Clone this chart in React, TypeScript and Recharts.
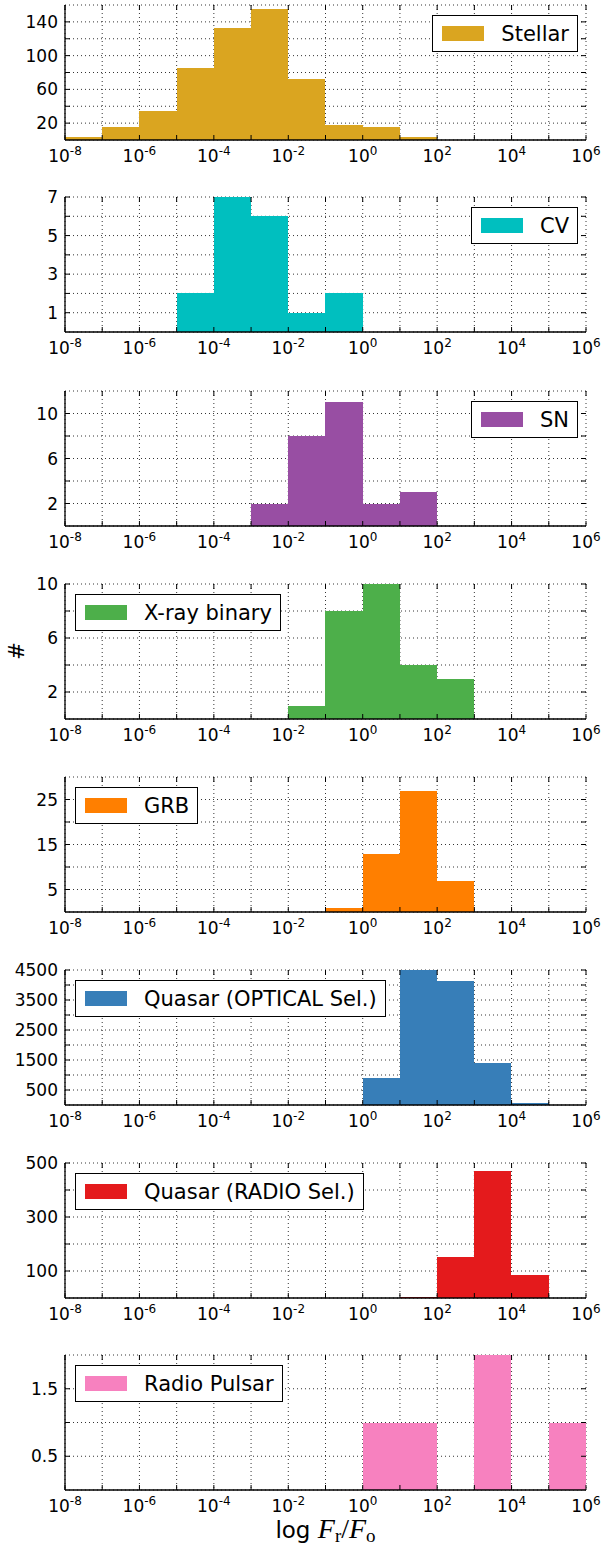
import React from 'react';
import { BarChart, Bar, XAxis, YAxis, CartesianGrid } from 'recharts';

// log10(Fr/Fo) histograms, 1-dex bins from 10^-8 to 10^6
const BIN_EDGES = [-8, -7, -6, -5, -4, -3, -2, -1, 0, 1, 2, 3, 4, 5];
const DECADES = [-8, -7, -6, -5, -4, -3, -2, -1, 0, 1, 2, 3, 4, 5, 6];
const DECADE_LABELS = [-8, -6, -4, -2, 0, 2, 4, 6];

const STELLAR = [3, 15, 34, 85, 133, 155, 72, 18, 16, 4, 0, 0, 0, 0];
const CV = [0, 0, 0, 2, 7, 6, 1, 2, 0, 0, 0, 0, 0, 0];
const SN = [0, 0, 0, 0, 0, 2, 8, 11, 2, 3, 0, 0, 0, 0];
const XRB = [0, 0, 0, 0, 0, 0, 1, 8, 10, 4, 3, 0, 0, 0];
const GRB = [0, 0, 0, 0, 0, 0, 0, 1, 13, 27, 7, 0, 0, 0];
const QSO_OPT = [0, 0, 0, 0, 0, 0, 0, 0, 900, 4500, 4150, 1400, 60, 0];
const QSO_RADIO = [0, 0, 0, 0, 0, 0, 0, 0, 0, 4, 153, 470, 87, 0];
const PULSAR = [0, 0, 0, 0, 0, 0, 0, 0, 1, 1, 0, 2, 0, 1];

const STELLAR_TICKS = [20, 40, 60, 80, 100, 120, 140];
const STELLAR_LABELS = [20, 60, 100, 140];
const CV_TICKS = [1, 2, 3, 4, 5, 6, 7];
const CV_LABELS = [1, 3, 5, 7];
const SN_TICKS = [2, 4, 6, 8, 10];
const SN_LABELS = [2, 6, 10];
const XRB_TICKS = [2, 4, 6, 8, 10];
const XRB_LABELS = [2, 6, 10];
const GRB_TICKS = [5, 10, 15, 20, 25];
const GRB_LABELS = [5, 15, 25];
const QSO_OPT_TICKS = [500, 1000, 1500, 2000, 2500, 3000, 3500, 4000, 4500];
const QSO_OPT_LABELS = [500, 1500, 2500, 3500, 4500];
const QSO_RADIO_TICKS = [100, 200, 300, 400, 500];
const QSO_RADIO_LABELS = [100, 300, 500];
const PULSAR_TICKS = [0.5, 1, 1.5];
const PULSAR_LABELS = [0.5, 1.5];

const rows = BIN_EDGES.map((edge, i) => ({
  center: edge + 0.5,
  stellar: STELLAR[i],
  cv: CV[i],
  sn: SN[i],
  xrb: XRB[i],
  grb: GRB[i],
  qsoOpt: QSO_OPT[i],
  qsoRadio: QSO_RADIO[i],
  pulsar: PULSAR[i],
}));

const PANELS = [
  { key: 'stellar', name: 'Stellar', color: '#daa520', yMax: 160, ticks: STELLAR_TICKS, labels: STELLAR_LABELS, legend: 'right' },
  { key: 'cv', name: 'CV', color: '#00bfbf', yMax: 7, ticks: CV_TICKS, labels: CV_LABELS, legend: 'right' },
  { key: 'sn', name: 'SN', color: '#984ea3', yMax: 12, ticks: SN_TICKS, labels: SN_LABELS, legend: 'right' },
  { key: 'xrb', name: 'X-ray binary', color: '#4daf4a', yMax: 10, ticks: XRB_TICKS, labels: XRB_LABELS, legend: 'left' },
  { key: 'grb', name: 'GRB', color: '#ff7f00', yMax: 30, ticks: GRB_TICKS, labels: GRB_LABELS, legend: 'left' },
  { key: 'qsoOpt', name: 'Quasar (OPTICAL Sel.)', color: '#377eb8', yMax: 4500, ticks: QSO_OPT_TICKS, labels: QSO_OPT_LABELS, legend: 'left' },
  { key: 'qsoRadio', name: 'Quasar (RADIO Sel.)', color: '#e41a1c', yMax: 500, ticks: QSO_RADIO_TICKS, labels: QSO_RADIO_LABELS, legend: 'left' },
  { key: 'pulsar', name: 'Radio Pulsar', color: '#f781bf', yMax: 2, ticks: PULSAR_TICKS, labels: PULSAR_LABELS, legend: 'left' },
];

const W = 603;
const H = 1548;
const PLOT_LEFT = 65;
const PLOT_RIGHT = 586;
const BIN_PX = (PLOT_RIGHT - PLOT_LEFT) / BIN_EDGES.length;
const PLOT_H = 135;
const PAD_TOP = 14;
const X_AXIS_H = 32;
const CHART_H = PAD_TOP + PLOT_H + X_AXIS_H;
const PLOT_TOPS = [5, 197, 391, 584, 777, 970, 1163, 1355];

const FONT = '"DejaVu Sans", sans-serif';
const SERIF = '"Liberation Serif", serif';
const FRAME = { stroke: '#000', strokeWidth: 1.3 };

type P = (typeof PANELS)[number];

// histogram bar: take the bin centre from the library and fill the whole bin width
const BinBar = (props: any) => {
  const { x, y, width, height, fill } = props;
  if (!height || height <= 0) return null;
  const cx = x + width / 2;
  return <rect x={cx - BIN_PX / 2} y={y} width={BIN_PX} height={height} fill={fill} shapeRendering="crispEdges" />;
};

function Panel({ p, top }: { p: P; top: number }) {
  const plotTop = PAD_TOP;
  const plotBottom = PAD_TOP + PLOT_H;

  const XTick = (props: any) => {
    const { x, payload } = props;
    const v = payload.value;
    return (
      <g>
        <line x1={x} x2={x} y1={plotBottom} y2={plotBottom - 5} stroke="#000" strokeWidth={1} />
        <line x1={x} x2={x} y1={plotTop} y2={plotTop + 5} stroke="#000" strokeWidth={1} />
        {DECADE_LABELS.includes(v) && (
          <text x={x} y={plotBottom + 22} textAnchor="middle" fontSize={17} fontFamily={FONT} fill="#000">
            10
            <tspan dy={-7} fontSize={12}>{String(v)}</tspan>
          </text>
        )}
      </g>
    );
  };

  const YTick = (props: any) => {
    const { y, payload } = props;
    const v = payload.value;
    return (
      <g>
        <line x1={PLOT_LEFT} x2={PLOT_LEFT + 5} y1={y} y2={y} stroke="#000" strokeWidth={1} />
        <line x1={PLOT_RIGHT} x2={PLOT_RIGHT - 5} y1={y} y2={y} stroke="#000" strokeWidth={1} />
        {p.labels.includes(v) && (
          <text x={PLOT_LEFT - 7} y={y} dy="0.36em" textAnchor="end" fontSize={17} fontFamily={FONT} fill="#000">
            {String(v)}
          </text>
        )}
      </g>
    );
  };

  const legendPos =
    p.legend === 'right'
      ? { right: W - PLOT_RIGHT + 8 }
      : { left: PLOT_LEFT + 10 };

  return (
    <div style={{ position: 'absolute', left: 0, top: top - PAD_TOP, width: W, height: CHART_H }}>
      <BarChart
        width={W}
        height={CHART_H}
        data={rows}
        margin={{ top: PAD_TOP, right: W - PLOT_RIGHT, bottom: 0, left: 0 }}
        barCategoryGap="0%"
        barGap={0}
      >
        <CartesianGrid stroke="#000" strokeWidth={0.8} strokeDasharray="1 3" />
        <Bar dataKey={p.key} fill={p.color} shape={<BinBar />} isAnimationActive={false} />
        <XAxis
          dataKey="center"
          type="number"
          domain={[-8, 6]}
          ticks={DECADES}
          interval={0}
          height={X_AXIS_H}
          allowDataOverflow
          tickLine={false}
          axisLine={FRAME}
          tick={<XTick />}
        />
        <XAxis xAxisId="top" orientation="top" type="number" domain={[-8, 6]} height={0} tick={false} tickLine={false} axisLine={FRAME} />
        <YAxis
          type="number"
          domain={[0, p.yMax]}
          ticks={p.ticks}
          interval={0}
          width={PLOT_LEFT}
          allowDataOverflow
          tickLine={false}
          axisLine={FRAME}
          tick={<YTick />}
        />
        <YAxis yAxisId="r" orientation="right" type="number" domain={[0, p.yMax]} width={0} tick={false} tickLine={false} axisLine={FRAME} />
      </BarChart>
      <div
        style={{
          position: 'absolute',
          top: PAD_TOP + 10,
          ...legendPos,
          height: 37,
          boxSizing: 'border-box',
          border: '1.3px solid #000',
          background: '#fff',
          display: 'flex',
          alignItems: 'center',
          padding: '0 8px 0 9px',
          fontFamily: FONT,
          fontSize: 21,
          color: '#000',
          whiteSpace: 'nowrap',
        }}
      >
        <div style={{ width: 42, height: 15, background: p.color, marginRight: 17 }} />
        <span>{p.name}</span>
      </div>
    </div>
  );
}

export default function App() {
  return (
    <div style={{ position: 'absolute', left: 0, top: 0, width: W, height: H, background: '#fff', overflow: 'hidden' }}>
      {PANELS.map((p, i) => (
        <Panel key={p.key} p={p} top={PLOT_TOPS[i]} />
      ))}
      <svg width={W} height={H} style={{ position: 'absolute', left: 0, top: 0, pointerEvents: 'none' }}>
        <text x={16} y={651} transform="rotate(-90 16 651)" textAnchor="middle" dy="0.36em" fontSize={21} fontFamily={FONT} fill="#000">
          #
        </text>
        <text x={(PLOT_LEFT + PLOT_RIGHT) / 2} y={1538} textAnchor="middle" fontSize={23} fontFamily={FONT} fill="#000">
          {'log\u00A0'}
          <tspan fontFamily={SERIF} fontStyle="italic" fontSize={28}>F</tspan>
          <tspan fontFamily={SERIF} fontSize={19} dy={4}>r</tspan>
          <tspan fontFamily={SERIF} fontSize={28} dy={-4}>/</tspan>
          <tspan fontFamily={SERIF} fontStyle="italic" fontSize={28}>F</tspan>
          <tspan fontFamily={SERIF} fontSize={19} dy={4}>o</tspan>
        </text>
      </svg>
    </div>
  );
}
